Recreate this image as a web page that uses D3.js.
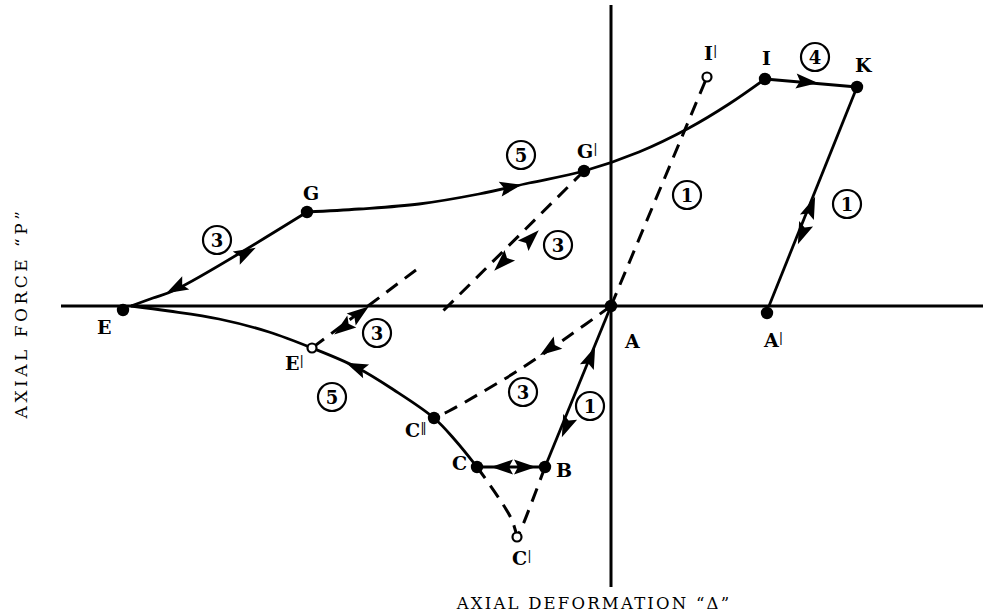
<!DOCTYPE html>
<html>
<head>
<meta charset="utf-8">
<script src="https://cdn.jsdelivr.net/npm/d3@7"></script>
<style>
  html, body { margin: 0; padding: 0; background: #fff; }
  svg { display: block; }
</style>
</head>
<body>
<svg id="chart" width="983" height="613"></svg>
<script>
// Load path of an axially loaded member: force P against deformation Δ (arbitrary units)
const solidPaths = [
  { id: "A-B",  pts: [[0, 0], [-0.66, -1.61]] },
  { id: "B-C",  pts: [[-0.66, -1.61], [-1.34, -1.61]] },
  { id: "C-E",  pts: [[-1.34, -1.61], [-1.56, -1.34], [-1.77, -1.12], [-2.17, -0.84], [-2.55, -0.61],
                      [-2.99, -0.42], [-3.42, -0.26], [-3.92, -0.13], [-4.42, -0.05], [-4.80, 0.0]] },
  { id: "E-G",  pts: [[-4.80, 0.0], [-4.58, 0.08], [-4.36, 0.16], [-3.04, 0.94]] },
  { id: "G-I",  pts: [[-3.04, 0.94], [-2.52, 0.97], [-1.92, 1.02], [-1.32, 1.12], [-0.82, 1.23],
                      [-0.27, 1.35], [0.28, 1.54], [0.78, 1.78], [1.18, 2.02], [1.54, 2.27]] },
  { id: "I-K",  pts: [[1.54, 2.27], [2.46, 2.19]] },
  { id: "K-A'", pts: [[2.46, 2.19], [1.58, 0.0]] }
];

const dashedPaths = [
  { id: "A-I'",  pts: [[0, 0], [0.96, 2.29]] },
  { id: "G'-3",  pts: [[-0.27, 1.35], [-1.69, -0.06]] },
  { id: "3-E'",  pts: [[-1.95, 0.36], [-2.99, -0.42]] },
  { id: "A-C''", pts: [[0, 0], [-0.42, -0.30], [-0.92, -0.64], [-1.32, -0.88], [-1.62, -1.05], [-1.77, -1.12]] },
  { id: "C-C'",  pts: [[-1.34, -1.61], [-1.00, -2.12], [-0.94, -2.31]] },
  { id: "B-C'",  pts: [[-0.66, -1.61], [-0.89, -2.21], [-0.94, -2.31]] }
];

// arrowheads: position and direction of travel
const arrows = [
  [-4.35, 0.18, -1.78, -0.94], [-3.65, 0.53, 1.78, 0.94],
  [-1.00, 1.19, 1.0, 0.2],
  [1.96, 2.24, 1.0, -0.09],
  [2.00, 0.99, 0.88, 2.19], [1.91, 0.72, -0.88, -2.19],
  [-0.20, -0.51, 0.66, 1.62], [-0.45, -1.21, -0.66, -1.62],
  [-1.09, -1.61, -1, 0], [-0.86, -1.61, 1, 0],
  [-2.55, -0.61, -0.44, 0.19],
  [-0.80, 0.68, 1.42, 1.41], [-1.09, 0.43, -1.42, -1.41],
  [-2.51, -0.07, 1.04, 0.78], [-2.68, -0.22, -1.04, -0.78],
  [-0.62, -0.43, -1.0, -0.7]
];

const pointNames = ["A", "B", "C", "C''", "C'", "E", "E'", "G", "G'", "I", "I'", "K", "A'"];
const pointX     = [0, -0.66, -1.34, -1.77, -0.94, -4.88, -2.99, -3.04, -0.27, 1.54, 0.96, 2.46, 1.56];
const pointY     = [0, -1.61, -1.61, -1.12, -2.31, -0.04, -0.42, 0.94, 1.35, 2.27, 2.29, 2.19, -0.07];
const pointOpen  = [false, false, false, false, true, false, true, false, false, false, true, false, false];
// label left edge and baseline per point (data units)
const labelX     = [0.14, -0.55, -1.59, -2.06, -0.99, -5.14, -3.26, -3.08, -0.34, 1.51, 0.93, 2.44, 1.53];
const labelY     = [-0.42, -1.71, -1.64, -1.31, -2.59, -0.28, -0.64, 1.06, 1.48, 2.41, 2.46, 2.34, -0.41];

const stageLabels = ["4", "1", "5", "3", "1", "3", "3", "3", "1", "5"];
const stageX      = [2.04, 0.76, -0.90, -0.53, 2.36, -3.94, -2.34, -0.88, -0.21, -2.79];
const stageY      = [2.49, 1.11, 1.51, 0.61, 1.02, 0.66, -0.27, -0.86, -1.00, -0.91];

const xTitle = "AXIAL DEFORMATION \u201C\u0394\u201D";
const yTitle = "AXIAL FORCE \u201CP\u201D";

const svg = d3.select("#chart");
const x = d3.scaleLinear().domain([-5.5, 3.72]).range([61, 983]);
const y = d3.scaleLinear().domain([-2.84, 3.01]).range([590, 5]);
const serif = "'DejaVu Serif', 'Liberation Serif', serif";

// axes through the origin
svg.append("line").attr("x1", x(-5.5)).attr("x2", x(3.72)).attr("y1", y(0)).attr("y2", y(0))
  .attr("stroke", "#000").attr("stroke-width", 3);
svg.append("line").attr("x1", x(0)).attr("x2", x(0)).attr("y1", y(3.01)).attr("y2", y(-2.81))
  .attr("stroke", "#000").attr("stroke-width", 3);

const line = d3.line().x(d => x(d[0])).y(d => y(d[1])).curve(d3.curveCatmullRom.alpha(0.5));

svg.append("g").selectAll("path").data(solidPaths).join("path")
  .attr("d", d => line(d.pts)).attr("fill", "none").attr("stroke", "#000")
  .attr("stroke-width", 2.8).attr("stroke-linejoin", "round");

svg.append("g").selectAll("path").data(dashedPaths).join("path")
  .attr("d", d => line(d.pts)).attr("fill", "none").attr("stroke", "#000")
  .attr("stroke-width", 3).attr("stroke-dasharray", "14,9");

// arrowheads
svg.append("g").selectAll("path").data(arrows).join("path")
  .attr("d", "M11,0 L-11,-7.5 L-7,0 L-11,7.5 Z")
  .attr("fill", "#000")
  .attr("transform", d => {
    const ang = Math.atan2(-d[3], d[2]) * 180 / Math.PI;
    return `translate(${x(d[0])},${y(d[1])}) rotate(${ang})`;
  });

// points
const pts = pointNames.map((n, i) => ({ n, x: pointX[i], y: pointY[i], open: pointOpen[i], lx: labelX[i], ly: labelY[i] }));
svg.append("g").selectAll("circle").data(pts).join("circle")
  .attr("cx", d => x(d.x)).attr("cy", d => y(d.y))
  .attr("r", d => d.open ? 4.5 : 6.2)
  .attr("fill", d => d.open ? "#fff" : "#000")
  .attr("stroke", "#000").attr("stroke-width", d => d.open ? 2.2 : 0);

// point labels: letter plus prime strokes
const lab = svg.append("g").selectAll("text").data(pts).join("text")
  .attr("x", d => x(d.lx)).attr("y", d => y(d.ly))
  .attr("text-anchor", "start")
  .attr("font-family", serif)
  .attr("font-weight", "bold").attr("font-size", 19);
lab.append("tspan").text(d => d.n.replace(/'/g, ""));
lab.append("tspan")
  .attr("font-size", 13).attr("font-weight", "normal").attr("dy", -5)
  .text(d => d.n.endsWith("''") ? "\u2016" : (d.n.endsWith("'") ? "|" : ""));

// circled loading-stage numbers
const st = svg.append("g").selectAll("g").data(stageLabels.map((s, i) => ({ s, x: stageX[i], y: stageY[i] })))
  .join("g").attr("transform", d => `translate(${x(d.x)},${y(d.y)})`);
st.append("circle").attr("r", 14).attr("fill", "#fff").attr("stroke", "#000").attr("stroke-width", 2.2);
st.append("text").attr("text-anchor", "middle").attr("dy", 6.5)
  .attr("font-family", serif)
  .attr("font-weight", "bold").attr("font-size", 18).text(d => d.s);

// axis titles
svg.append("text").attr("x", 594).attr("y", 609).attr("text-anchor", "middle")
  .attr("font-family", serif)
  .attr("font-size", 16.5).attr("letter-spacing", 2.2).text(xTitle);
svg.append("text").attr("transform", "translate(27,313) rotate(-90)").attr("text-anchor", "middle")
  .attr("font-family", serif)
  .attr("font-size", 17).attr("letter-spacing", 3.5).text(yTitle);
</script>
</body>
</html>
